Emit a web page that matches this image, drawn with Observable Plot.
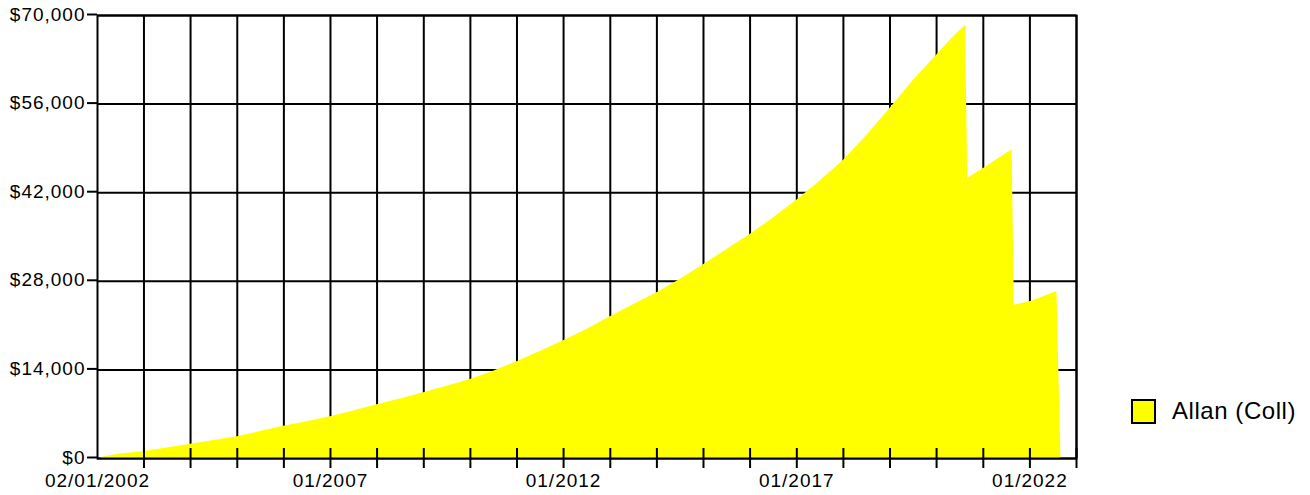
<!DOCTYPE html>
<html>
<head>
<meta charset="utf-8">
<script src="https://cdn.jsdelivr.net/npm/d3@7"></script>
<script src="https://cdn.jsdelivr.net/npm/@observablehq/plot@0.6"></script>
<style>
  html, body { margin: 0; padding: 0; background: #fff; overflow: hidden; }
  #wrap { position: relative; width: 1310px; height: 495px; }
  #legend { position: absolute; left: 1131px; top: 397px; display: flex; align-items: center;
            font-family: "Liberation Sans", Arial, sans-serif; font-size: 24px; letter-spacing: 0.55px; color: #000; }
  #legend .sw { width: 21px; height: 21px; border: 2px solid #000; background: #ffff00; margin-right: 16px; }
</style>
</head>
<body>
<div id="wrap"><div id="legend"><div class="sw"></div><span id="legend-label"></span></div></div>
<script>
const seriesName = "Allan (Coll)";
const dates = [
  "2002-02-01","2002-06-01","2003-01-01","2003-07-01","2004-01-01","2004-07-01",
  "2005-01-01","2005-07-01","2006-01-01","2006-07-01","2007-01-01","2007-07-01",
  "2008-01-01","2008-07-01","2009-01-01","2009-07-01","2010-01-01","2010-07-01",
  "2011-01-01","2011-07-01","2012-01-01","2012-07-01","2013-01-01","2013-07-01",
  "2014-01-01","2014-07-01","2015-01-01","2015-07-01","2016-01-01","2016-07-01",
  "2017-01-01","2017-07-01","2018-01-01","2018-07-01","2019-01-01","2019-07-01",
  "2020-01-01","2020-05-01","2020-08-15","2020-09-01","2021-01-15","2021-08-15",
  "2021-09-01","2022-01-15","2022-08-01","2022-09-01"
];
const values = [
  150, 650, 1100, 1650, 2250, 2850,
  3450, 4250, 5100, 5800, 6600, 7500,
  8500, 9400, 10400, 11400, 12500, 13800,
  15300, 16900, 18600, 20400, 22400, 24300,
  26200, 28300, 30600, 33000, 35400, 38000,
  40800, 43800, 47100, 51000, 55300, 59700,
  63700, 66400, 68450, 44300, 46000, 48800,
  24200, 24850, 26400, 0
];
const xDomain = ["2002-01-02", "2023-01-01"];
const xLabelDates = ["2002-01-02", "2007-01-01", "2012-01-01", "2017-01-01", "2022-01-01"];
const xLabels = ["02/01/2002", "01/2007", "01/2012", "01/2017", "01/2022"];
const gridYears = [2003,2004,2005,2006,2007,2008,2009,2010,2011,2012,2013,2014,2015,2016,2017,2018,2019,2020,2021,2022,2023];
const yTicks = [0, 14000, 28000, 42000, 56000, 70000];

document.getElementById("legend-label").textContent = seriesName;

const data = dates.map((d, i) => ({date: new Date(d + "T00:00:00Z"), value: values[i]}));
const yearDates = gridYears.map(y => new Date(Date.UTC(y, 0, 1)));
const labelDates = xLabelDates.map(d => new Date(d + "T00:00:00Z"));
const labelFor = d => { const i = labelDates.findIndex(t => +t === +d); return i >= 0 ? xLabels[i] : ""; };
const fmtY = d3.format("$,");

const chart = Plot.plot({
  width: 1310,
  height: 495,
  marginLeft: 97,
  marginRight: 234,
  marginTop: 15,
  marginBottom: 37,
  style: {fontFamily: "'Liberation Sans', Arial, sans-serif", fontSize: "19px", letterSpacing: "1px", color: "#000", background: "transparent"},
  x: {type: "utc", domain: xDomain.map(d => new Date(d + "T00:00:00Z"))},
  y: {domain: [0, 70000]},
  marks: [
    Plot.gridX(yearDates, {stroke: "#000", strokeOpacity: 1, strokeWidth: 2}),
    Plot.gridY(yTicks, {stroke: "#000", strokeOpacity: 1, strokeWidth: 2}),
    Plot.areaY(data, {x: "date", y: "value", fill: "#ffff00", curve: "linear"}),
    Plot.frame({stroke: "#000", strokeWidth: 2}),
    Plot.axisX({ticks: yearDates, tickSize: 20, dy: -10, tickFormat: () => "", strokeWidth: 2, label: null}),
    Plot.axisX({ticks: labelDates, tickSize: 0, tickPadding: 15, tickFormat: labelFor, label: null}),
    Plot.axisY({ticks: yTicks, tickSize: 10, tickPadding: 2, tickFormat: fmtY, strokeWidth: 2, dy: -1, label: null})
  ]
});
document.getElementById("wrap").prepend(chart);
</script>
</body>
</html>
